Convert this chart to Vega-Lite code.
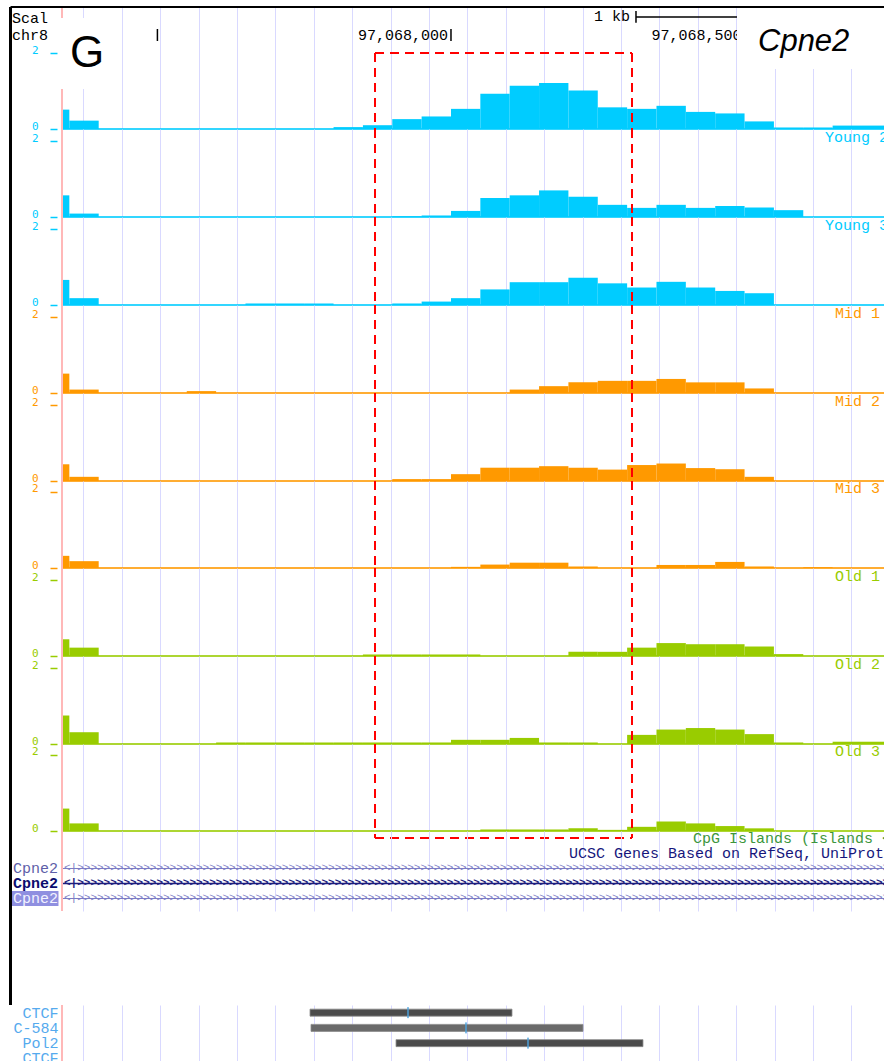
{
"$schema": "https://vega.github.io/schema/vega-lite/v6.json",
"background": "white",
"padding": {"left": 9, "top": 5, "right": 0, "bottom": 0},
"autosize": {"type": "pad"},
"spacing": 0,
"bounds": "flush",
"datasets": {
"bins": [
{"start":97067300,"end":97067350,"Y1":0.51,"Y2":0.57,"Y3":0.66,"M1":0.51,"M2":0.44,"M3":0.32,"O1":0.44,"O2":0.75,"O3":0.59},
{"start":97067350,"end":97067400,"Y1":0.22,"Y2":0.09,"Y3":0.18,"M1":0.09,"M2":0.11,"M3":0.18,"O1":0.22,"O2":0.31,"O3":0.20},
{"start":97067400,"end":97067450,"Y1":0,"Y2":0,"Y3":0,"M1":0,"M2":0,"M3":0,"O1":0,"O2":0,"O3":0},
{"start":97067450,"end":97067500,"Y1":0,"Y2":0,"Y3":0,"M1":0,"M2":0,"M3":0,"O1":0,"O2":0,"O3":0},
{"start":97067500,"end":97067550,"Y1":0,"Y2":0,"Y3":0,"M1":0,"M2":0,"M3":0,"O1":0,"O2":0,"O3":0},
{"start":97067550,"end":97067600,"Y1":0,"Y2":0,"Y3":0,"M1":0.05,"M2":0,"M3":0,"O1":0,"O2":0,"O3":0},
{"start":97067600,"end":97067650,"Y1":0,"Y2":0,"Y3":0,"M1":0,"M2":0,"M3":0,"O1":0,"O2":0.04,"O3":0},
{"start":97067650,"end":97067700,"Y1":0,"Y2":0,"Y3":0.04,"M1":0,"M2":0,"M3":0,"O1":0,"O2":0.04,"O3":0},
{"start":97067700,"end":97067750,"Y1":0,"Y2":0,"Y3":0.04,"M1":0,"M2":0,"M3":0,"O1":0,"O2":0.04,"O3":0},
{"start":97067750,"end":97067800,"Y1":0,"Y2":0,"Y3":0.04,"M1":0,"M2":0,"M3":0,"O1":0,"O2":0.04,"O3":0},
{"start":97067800,"end":97067850,"Y1":0.05,"Y2":0,"Y3":0,"M1":0,"M2":0,"M3":0,"O1":0,"O2":0.04,"O3":0},
{"start":97067850,"end":97067900,"Y1":0.10,"Y2":0,"Y3":0,"M1":0,"M2":0,"M3":0,"O1":0.04,"O2":0.04,"O3":0},
{"start":97067900,"end":97067950,"Y1":0.26,"Y2":0.02,"Y3":0.04,"M1":0,"M2":0.05,"M3":0,"O1":0.04,"O2":0.04,"O3":0},
{"start":97067950,"end":97068000,"Y1":0.33,"Y2":0.04,"Y3":0.09,"M1":0,"M2":0.05,"M3":0,"O1":0.04,"O2":0.04,"O3":0},
{"start":97068000,"end":97068050,"Y1":0.53,"Y2":0.16,"Y3":0.18,"M1":0,"M2":0.18,"M3":0.03,"O1":0.04,"O2":0.11,"O3":0},
{"start":97068050,"end":97068100,"Y1":0.93,"Y2":0.50,"Y3":0.41,"M1":0,"M2":0.35,"M3":0.09,"O1":0,"O2":0.11,"O3":0.04},
{"start":97068100,"end":97068150,"Y1":1.14,"Y2":0.57,"Y3":0.60,"M1":0.09,"M2":0.35,"M3":0.14,"O1":0,"O2":0.16,"O3":0.04},
{"start":97068150,"end":97068200,"Y1":1.21,"Y2":0.70,"Y3":0.60,"M1":0.18,"M2":0.39,"M3":0.14,"O1":0,"O2":0.04,"O3":0.04},
{"start":97068200,"end":97068250,"Y1":1.01,"Y2":0.53,"Y3":0.72,"M1":0.28,"M2":0.35,"M3":0.04,"O1":0.11,"O2":0.04,"O3":0.07},
{"start":97068250,"end":97068300,"Y1":0.57,"Y2":0.32,"Y3":0.57,"M1":0.32,"M2":0.30,"M3":0,"O1":0.11,"O2":0,"O3":0.03},
{"start":97068300,"end":97068350,"Y1":0.53,"Y2":0.24,"Y3":0.46,"M1":0.32,"M2":0.42,"M3":0,"O1":0.22,"O2":0.24,"O3":0.11},
{"start":97068350,"end":97068400,"Y1":0.61,"Y2":0.32,"Y3":0.61,"M1":0.37,"M2":0.46,"M3":0.08,"O1":0.34,"O2":0.38,"O3":0.25},
{"start":97068400,"end":97068450,"Y1":0.45,"Y2":0.24,"Y3":0.46,"M1":0.28,"M2":0.34,"M3":0.08,"O1":0.31,"O2":0.42,"O3":0.20},
{"start":97068450,"end":97068500,"Y1":0.41,"Y2":0.29,"Y3":0.37,"M1":0.28,"M2":0.31,"M3":0.16,"O1":0.31,"O2":0.38,"O3":0.13},
{"start":97068500,"end":97068550,"Y1":0.20,"Y2":0.25,"Y3":0.31,"M1":0.12,"M2":0.11,"M3":0.04,"O1":0.25,"O2":0.26,"O3":0.07},
{"start":97068550,"end":97068600,"Y1":0.04,"Y2":0.18,"Y3":0,"M1":0,"M2":0,"M3":0,"O1":0.05,"O2":0.04,"O3":0},
{"start":97068600,"end":97068650,"Y1":0.04,"Y2":0,"Y3":0,"M1":0,"M2":0,"M3":0.02,"O1":0,"O2":0,"O3":0},
{"start":97068650,"end":97068700,"Y1":0.09,"Y2":0,"Y3":0,"M1":0,"M2":0,"M3":0,"O1":0,"O2":0.06,"O3":0},
{"start":97068700,"end":97068750,"Y1":0.09,"Y2":0,"Y3":0,"M1":0,"M2":0,"M3":0,"O1":0,"O2":0.06,"O3":0}
],
"ruler": [
{"pos":97067500,"label":""},
{"pos":97068000,"label":"97,068,000"},
{"pos":97068500,"label":"97,068,500"}
],
"genes": [
{"row":"g1","name":"Cpne2"},
{"row":"g2","name":"Cpne2"},
{"row":"g3","name":"Cpne2"}
],
"peaks": [
{"row":"CTCF","start":97067759.9,"end":97068103.9,"summit":97067926.8},
{"row":"C-584","start":97067761.6,"end":97068224.8,"summit":97068025.6},
{"row":"Pol2","start":97067906.4,"end":97068327.0,"summit":97068131.2}
]
},
"vconcat": [
{
"width": 822, "height": 122,
"layer": [
{"data":{"name":"bins"},"mark":{"type":"rect","clip":true,"color":"#00ccff"},
 "encoding":{
  "x":{"field":"start","type":"quantitative","scale":{"domain":[97067337.5,97068737.5],"nice":false,"zero":false},"axis":{"title":null,"values":[97067374.1,97067406.8,97067439.5,97067472.2,97067504.9,97067537.6,97067570.3,97067603.0,97067635.7,97067668.4,97067701.1,97067733.8,97067766.5,97067799.2,97067831.9,97067864.6,97067897.3,97067930.0,97067962.7,97067995.4,97068028.1,97068060.8,97068093.5,97068126.2,97068158.9,97068191.6,97068224.3,97068257.0,97068289.7,97068322.4,97068355.1,97068387.8,97068420.5,97068453.2,97068485.9,97068518.6,97068551.3,97068584.0,97068616.7,97068649.4,97068682.1,97068714.8]}},
  "x2":{"field":"end"},
  "y":{"field":"Y1","type":"quantitative","scale":{"domain":[0,3.21053],"nice":false,"zero":true},"axis":{"title":null,"values":[0,2],"labelColor":"#00ccff","tickColor":"#00ccff"}},
  "y2":{"datum":0}}},
{"data":{"values":[{}]},"mark":{"type":"rule","color":"#00ccff","strokeWidth":2,"opacity":0.8},"encoding":{"y":{"datum":0}}},
{"data":{"values":[{}]},"mark":{"type":"rule","color":"#ffb8b8","strokeWidth":2},"encoding":{"x":{"datum":97067337.5}}},
{"data":{"name":"ruler"},"mark":{"type":"rule","color":"#000000","strokeWidth":1.5},"encoding":{"x":{"field":"pos","type":"quantitative"},"y":{"datum":2.632},"y2":{"datum":2.316}}},
{"data":{"name":"ruler"},"mark":{"type":"text","align":"right","baseline":"middle","dx":-3,"color":"#000000"},"encoding":{"x":{"field":"pos","type":"quantitative"},"y":{"datum":2.474},"text":{"field":"label"}}},
{"data":{"values":[{}]},"mark":{"type":"rule","color":"#000000","strokeWidth":1.5},"encoding":{"x":{"datum":97068315.1},"x2":{"datum":97068737.5},"y":{"datum":2.947}}},
{"data":{"values":[{}]},"mark":{"type":"rule","color":"#000000","strokeWidth":1.5},"encoding":{"x":{"datum":97068315.1},"y":{"datum":3.105},"y2":{"datum":2.797}}},
{"data":{"values":[{}]},"mark":{"type":"text","align":"right","baseline":"middle","dx":-2,"color":"#000000"},"encoding":{"x":{"datum":97068308.3},"y":{"datum":2.974},"text":{"value":"1 kb"}}},
{"data":{"values":[{}]},"mark":{"type":"text","align":"left","baseline":"middle","color":"#000000"},"encoding":{"x":{"datum":97067252.3},"y":{"datum":2.908},"text":{"value":"Scal"}}},
{"data":{"values":[{}]},"mark":{"type":"text","align":"left","baseline":"middle","color":"#000000"},"encoding":{"x":{"datum":97067252.3},"y":{"datum":2.474},"text":{"value":"chr8"}}},
{"data":{"values":[{}]},"mark":{"type":"rect","color":"#ffffff"},"encoding":{"x":{"datum":97067330.7},"x2":{"datum":97067424.4},"y":{"datum":2.92},"y2":{"datum":1.05}}},
{"data":{"values":[{}]},"mark":{"type":"rect","color":"#ffffff"},"encoding":{"x":{"datum":97068487.1},"x2":{"datum":97068737.5},"y":{"datum":3.21053},"y2":{"datum":1.58}}},
{"data":{"values":[{}]},"mark":{"type":"text","align":"left","baseline":"alphabetic","font":"Liberation Sans","fontSize":44,"color":"#000000"},"encoding":{"x":{"datum":97067351.1},"y":{"datum":1.632},"text":{"value":"G"}}},
{"data":{"values":[{}]},"mark":{"type":"text","align":"left","baseline":"alphabetic","font":"Liberation Sans","fontStyle":"italic","fontSize":31,"color":"#000000"},"encoding":{"x":{"datum":97068522.9},"y":{"datum":2.053},"text":{"value":"Cpne2"}}},
{"data":{"values":[{}]},"mark":{"type":"rule","color":"#ff0000","strokeWidth":2,"strokeDash":[9,6]},"encoding":{"x":{"datum":97067870.6},"y":{"datum":2},"y2":{"datum":0}}},
{"data":{"values":[{}]},"mark":{"type":"rule","color":"#ff0000","strokeWidth":2,"strokeDash":[9,6]},"encoding":{"x":{"datum":97068308.3},"y":{"datum":2},"y2":{"datum":0}}},
{"data":{"values":[{}]},"mark":{"type":"rule","color":"#ff0000","strokeWidth":2,"strokeDash":[9,6]},"encoding":{"x":{"datum":97067870.6},"x2":{"datum":97068308.3},"y":{"datum":2}}},
{"data":{"values":[{}]},"mark":{"type":"rule","color":"#000000","strokeWidth":3},"encoding":{"x":{"datum":97067249.8}}},
{"data":{"values":[{}]},"mark":{"type":"rule","color":"#000000","strokeWidth":2},"encoding":{"x":{"datum":97067249.8},"x2":{"datum":97068737.5},"y":{"datum":3.21053}}}
]
},
{
"width": 822, "height": 88,
"layer": [
{"data":{"name":"bins"},"mark":{"type":"rect","clip":true,"color":"#00ccff"},
 "encoding":{
  "x":{"field":"start","type":"quantitative","scale":{"domain":[97067337.5,97068737.5],"nice":false,"zero":false},"axis":{"title":null,"values":[97067374.1,97067406.8,97067439.5,97067472.2,97067504.9,97067537.6,97067570.3,97067603.0,97067635.7,97067668.4,97067701.1,97067733.8,97067766.5,97067799.2,97067831.9,97067864.6,97067897.3,97067930.0,97067962.7,97067995.4,97068028.1,97068060.8,97068093.5,97068126.2,97068158.9,97068191.6,97068224.3,97068257.0,97068289.7,97068322.4,97068355.1,97068387.8,97068420.5,97068453.2,97068485.9,97068518.6,97068551.3,97068584.0,97068616.7,97068649.4,97068682.1,97068714.8]}},
  "x2":{"field":"end"},
  "y":{"field":"Y2","type":"quantitative","scale":{"domain":[0,2.31579],"nice":false,"zero":true},"axis":{"title":null,"values":[0,2],"labelColor":"#00ccff","tickColor":"#00ccff"}},
  "y2":{"datum":0}}},
{"data":{"values":[{}]},"mark":{"type":"rule","color":"#00ccff","strokeWidth":2,"opacity":0.8},"encoding":{"y":{"datum":0}}},
{"data":{"values":[{}]},"mark":{"type":"rule","color":"#ffb8b8","strokeWidth":2},"encoding":{"x":{"datum":97067337.5}}},
{"data":{"values":[{}]},"mark":{"type":"rule","color":"#ff0000","strokeWidth":2,"strokeDash":[9,6]},"encoding":{"x":{"datum":97067870.6}}},
{"data":{"values":[{}]},"mark":{"type":"rule","color":"#ff0000","strokeWidth":2,"strokeDash":[9,6]},"encoding":{"x":{"datum":97068308.3}}},
{"data":{"values":[{}]},"mark":{"type":"rule","color":"#000000","strokeWidth":3},"encoding":{"x":{"datum":97067249.8}}},
{"data":{"values":[{}]},"mark":{"type":"text","align":"left","baseline":"middle","color":"#00ccff"},"encoding":{"x":{"datum":97068637.0},"y":{"datum":2.1},"text":{"value":"Young 2"}}}
]
},
{
"width": 822, "height": 88,
"layer": [
{"data":{"name":"bins"},"mark":{"type":"rect","clip":true,"color":"#00ccff"},
 "encoding":{
  "x":{"field":"start","type":"quantitative","scale":{"domain":[97067337.5,97068737.5],"nice":false,"zero":false},"axis":{"title":null,"values":[97067374.1,97067406.8,97067439.5,97067472.2,97067504.9,97067537.6,97067570.3,97067603.0,97067635.7,97067668.4,97067701.1,97067733.8,97067766.5,97067799.2,97067831.9,97067864.6,97067897.3,97067930.0,97067962.7,97067995.4,97068028.1,97068060.8,97068093.5,97068126.2,97068158.9,97068191.6,97068224.3,97068257.0,97068289.7,97068322.4,97068355.1,97068387.8,97068420.5,97068453.2,97068485.9,97068518.6,97068551.3,97068584.0,97068616.7,97068649.4,97068682.1,97068714.8]}},
  "x2":{"field":"end"},
  "y":{"field":"Y3","type":"quantitative","scale":{"domain":[0,2.31579],"nice":false,"zero":true},"axis":{"title":null,"values":[0,2],"labelColor":"#00ccff","tickColor":"#00ccff"}},
  "y2":{"datum":0}}},
{"data":{"values":[{}]},"mark":{"type":"rule","color":"#00ccff","strokeWidth":2,"opacity":0.8},"encoding":{"y":{"datum":0}}},
{"data":{"values":[{}]},"mark":{"type":"rule","color":"#ffb8b8","strokeWidth":2},"encoding":{"x":{"datum":97067337.5}}},
{"data":{"values":[{}]},"mark":{"type":"rule","color":"#ff0000","strokeWidth":2,"strokeDash":[9,6]},"encoding":{"x":{"datum":97067870.6}}},
{"data":{"values":[{}]},"mark":{"type":"rule","color":"#ff0000","strokeWidth":2,"strokeDash":[9,6]},"encoding":{"x":{"datum":97068308.3}}},
{"data":{"values":[{}]},"mark":{"type":"rule","color":"#000000","strokeWidth":3},"encoding":{"x":{"datum":97067249.8}}},
{"data":{"values":[{}]},"mark":{"type":"text","align":"left","baseline":"middle","color":"#00ccff"},"encoding":{"x":{"datum":97068637.0},"y":{"datum":2.1},"text":{"value":"Young 3"}}}
]
},
{
"width": 822, "height": 88,
"layer": [
{"data":{"name":"bins"},"mark":{"type":"rect","clip":true,"color":"#ff9900"},
 "encoding":{
  "x":{"field":"start","type":"quantitative","scale":{"domain":[97067337.5,97068737.5],"nice":false,"zero":false},"axis":{"title":null,"values":[97067374.1,97067406.8,97067439.5,97067472.2,97067504.9,97067537.6,97067570.3,97067603.0,97067635.7,97067668.4,97067701.1,97067733.8,97067766.5,97067799.2,97067831.9,97067864.6,97067897.3,97067930.0,97067962.7,97067995.4,97068028.1,97068060.8,97068093.5,97068126.2,97068158.9,97068191.6,97068224.3,97068257.0,97068289.7,97068322.4,97068355.1,97068387.8,97068420.5,97068453.2,97068485.9,97068518.6,97068551.3,97068584.0,97068616.7,97068649.4,97068682.1,97068714.8]}},
  "x2":{"field":"end"},
  "y":{"field":"M1","type":"quantitative","scale":{"domain":[0,2.31579],"nice":false,"zero":true},"axis":{"title":null,"values":[0,2],"labelColor":"#ff9900","tickColor":"#ff9900"}},
  "y2":{"datum":0}}},
{"data":{"values":[{}]},"mark":{"type":"rule","color":"#ff9900","strokeWidth":2,"opacity":0.8},"encoding":{"y":{"datum":0}}},
{"data":{"values":[{}]},"mark":{"type":"rule","color":"#ffb8b8","strokeWidth":2},"encoding":{"x":{"datum":97067337.5}}},
{"data":{"values":[{}]},"mark":{"type":"rule","color":"#ff0000","strokeWidth":2,"strokeDash":[9,6]},"encoding":{"x":{"datum":97067870.6}}},
{"data":{"values":[{}]},"mark":{"type":"rule","color":"#ff0000","strokeWidth":2,"strokeDash":[9,6]},"encoding":{"x":{"datum":97068308.3}}},
{"data":{"values":[{}]},"mark":{"type":"rule","color":"#000000","strokeWidth":3},"encoding":{"x":{"datum":97067249.8}}},
{"data":{"values":[{}]},"mark":{"type":"text","align":"left","baseline":"middle","color":"#ff9900"},"encoding":{"x":{"datum":97068654.0},"y":{"datum":2.1},"text":{"value":"Mid 1"}}}
]
},
{
"width": 822, "height": 88,
"layer": [
{"data":{"name":"bins"},"mark":{"type":"rect","clip":true,"color":"#ff9900"},
 "encoding":{
  "x":{"field":"start","type":"quantitative","scale":{"domain":[97067337.5,97068737.5],"nice":false,"zero":false},"axis":{"title":null,"values":[97067374.1,97067406.8,97067439.5,97067472.2,97067504.9,97067537.6,97067570.3,97067603.0,97067635.7,97067668.4,97067701.1,97067733.8,97067766.5,97067799.2,97067831.9,97067864.6,97067897.3,97067930.0,97067962.7,97067995.4,97068028.1,97068060.8,97068093.5,97068126.2,97068158.9,97068191.6,97068224.3,97068257.0,97068289.7,97068322.4,97068355.1,97068387.8,97068420.5,97068453.2,97068485.9,97068518.6,97068551.3,97068584.0,97068616.7,97068649.4,97068682.1,97068714.8]}},
  "x2":{"field":"end"},
  "y":{"field":"M2","type":"quantitative","scale":{"domain":[0,2.31579],"nice":false,"zero":true},"axis":{"title":null,"values":[0,2],"labelColor":"#ff9900","tickColor":"#ff9900"}},
  "y2":{"datum":0}}},
{"data":{"values":[{}]},"mark":{"type":"rule","color":"#ff9900","strokeWidth":2,"opacity":0.8},"encoding":{"y":{"datum":0}}},
{"data":{"values":[{}]},"mark":{"type":"rule","color":"#ffb8b8","strokeWidth":2},"encoding":{"x":{"datum":97067337.5}}},
{"data":{"values":[{}]},"mark":{"type":"rule","color":"#ff0000","strokeWidth":2,"strokeDash":[9,6]},"encoding":{"x":{"datum":97067870.6}}},
{"data":{"values":[{}]},"mark":{"type":"rule","color":"#ff0000","strokeWidth":2,"strokeDash":[9,6]},"encoding":{"x":{"datum":97068308.3}}},
{"data":{"values":[{}]},"mark":{"type":"rule","color":"#000000","strokeWidth":3},"encoding":{"x":{"datum":97067249.8}}},
{"data":{"values":[{}]},"mark":{"type":"text","align":"left","baseline":"middle","color":"#ff9900"},"encoding":{"x":{"datum":97068654.0},"y":{"datum":2.1},"text":{"value":"Mid 2"}}}
]
},
{
"width": 822, "height": 87,
"layer": [
{"data":{"name":"bins"},"mark":{"type":"rect","clip":true,"color":"#ff9900"},
 "encoding":{
  "x":{"field":"start","type":"quantitative","scale":{"domain":[97067337.5,97068737.5],"nice":false,"zero":false},"axis":{"title":null,"values":[97067374.1,97067406.8,97067439.5,97067472.2,97067504.9,97067537.6,97067570.3,97067603.0,97067635.7,97067668.4,97067701.1,97067733.8,97067766.5,97067799.2,97067831.9,97067864.6,97067897.3,97067930.0,97067962.7,97067995.4,97068028.1,97068060.8,97068093.5,97068126.2,97068158.9,97068191.6,97068224.3,97068257.0,97068289.7,97068322.4,97068355.1,97068387.8,97068420.5,97068453.2,97068485.9,97068518.6,97068551.3,97068584.0,97068616.7,97068649.4,97068682.1,97068714.8]}},
  "x2":{"field":"end"},
  "y":{"field":"M3","type":"quantitative","scale":{"domain":[0,2.28947],"nice":false,"zero":true},"axis":{"title":null,"values":[0,2],"labelColor":"#ff9900","tickColor":"#ff9900"}},
  "y2":{"datum":0}}},
{"data":{"values":[{}]},"mark":{"type":"rule","color":"#ff9900","strokeWidth":2,"opacity":0.8},"encoding":{"y":{"datum":0}}},
{"data":{"values":[{}]},"mark":{"type":"rule","color":"#ffb8b8","strokeWidth":2},"encoding":{"x":{"datum":97067337.5}}},
{"data":{"values":[{}]},"mark":{"type":"rule","color":"#ff0000","strokeWidth":2,"strokeDash":[9,6]},"encoding":{"x":{"datum":97067870.6}}},
{"data":{"values":[{}]},"mark":{"type":"rule","color":"#ff0000","strokeWidth":2,"strokeDash":[9,6]},"encoding":{"x":{"datum":97068308.3}}},
{"data":{"values":[{}]},"mark":{"type":"rule","color":"#000000","strokeWidth":3},"encoding":{"x":{"datum":97067249.8}}},
{"data":{"values":[{}]},"mark":{"type":"text","align":"left","baseline":"middle","color":"#ff9900"},"encoding":{"x":{"datum":97068654.0},"y":{"datum":2.1},"text":{"value":"Mid 3"}}}
]
},
{
"width": 822, "height": 88,
"layer": [
{"data":{"name":"bins"},"mark":{"type":"rect","clip":true,"color":"#99cc00"},
 "encoding":{
  "x":{"field":"start","type":"quantitative","scale":{"domain":[97067337.5,97068737.5],"nice":false,"zero":false},"axis":{"title":null,"values":[97067374.1,97067406.8,97067439.5,97067472.2,97067504.9,97067537.6,97067570.3,97067603.0,97067635.7,97067668.4,97067701.1,97067733.8,97067766.5,97067799.2,97067831.9,97067864.6,97067897.3,97067930.0,97067962.7,97067995.4,97068028.1,97068060.8,97068093.5,97068126.2,97068158.9,97068191.6,97068224.3,97068257.0,97068289.7,97068322.4,97068355.1,97068387.8,97068420.5,97068453.2,97068485.9,97068518.6,97068551.3,97068584.0,97068616.7,97068649.4,97068682.1,97068714.8]}},
  "x2":{"field":"end"},
  "y":{"field":"O1","type":"quantitative","scale":{"domain":[0,2.31579],"nice":false,"zero":true},"axis":{"title":null,"values":[0,2],"labelColor":"#99cc00","tickColor":"#99cc00"}},
  "y2":{"datum":0}}},
{"data":{"values":[{}]},"mark":{"type":"rule","color":"#99cc00","strokeWidth":2,"opacity":0.8},"encoding":{"y":{"datum":0}}},
{"data":{"values":[{}]},"mark":{"type":"rule","color":"#ffb8b8","strokeWidth":2},"encoding":{"x":{"datum":97067337.5}}},
{"data":{"values":[{}]},"mark":{"type":"rule","color":"#ff0000","strokeWidth":2,"strokeDash":[9,6]},"encoding":{"x":{"datum":97067870.6}}},
{"data":{"values":[{}]},"mark":{"type":"rule","color":"#ff0000","strokeWidth":2,"strokeDash":[9,6]},"encoding":{"x":{"datum":97068308.3}}},
{"data":{"values":[{}]},"mark":{"type":"rule","color":"#000000","strokeWidth":3},"encoding":{"x":{"datum":97067249.8}}},
{"data":{"values":[{}]},"mark":{"type":"text","align":"left","baseline":"middle","color":"#99cc00"},"encoding":{"x":{"datum":97068654.0},"y":{"datum":2.1},"text":{"value":"Old 1"}}}
]
},
{
"width": 822, "height": 88,
"layer": [
{"data":{"name":"bins"},"mark":{"type":"rect","clip":true,"color":"#99cc00"},
 "encoding":{
  "x":{"field":"start","type":"quantitative","scale":{"domain":[97067337.5,97068737.5],"nice":false,"zero":false},"axis":{"title":null,"values":[97067374.1,97067406.8,97067439.5,97067472.2,97067504.9,97067537.6,97067570.3,97067603.0,97067635.7,97067668.4,97067701.1,97067733.8,97067766.5,97067799.2,97067831.9,97067864.6,97067897.3,97067930.0,97067962.7,97067995.4,97068028.1,97068060.8,97068093.5,97068126.2,97068158.9,97068191.6,97068224.3,97068257.0,97068289.7,97068322.4,97068355.1,97068387.8,97068420.5,97068453.2,97068485.9,97068518.6,97068551.3,97068584.0,97068616.7,97068649.4,97068682.1,97068714.8]}},
  "x2":{"field":"end"},
  "y":{"field":"O2","type":"quantitative","scale":{"domain":[0,2.31579],"nice":false,"zero":true},"axis":{"title":null,"values":[0,2],"labelColor":"#99cc00","tickColor":"#99cc00"}},
  "y2":{"datum":0}}},
{"data":{"values":[{}]},"mark":{"type":"rule","color":"#99cc00","strokeWidth":2,"opacity":0.8},"encoding":{"y":{"datum":0}}},
{"data":{"values":[{}]},"mark":{"type":"rule","color":"#ffb8b8","strokeWidth":2},"encoding":{"x":{"datum":97067337.5}}},
{"data":{"values":[{}]},"mark":{"type":"rule","color":"#ff0000","strokeWidth":2,"strokeDash":[9,6]},"encoding":{"x":{"datum":97067870.6}}},
{"data":{"values":[{}]},"mark":{"type":"rule","color":"#ff0000","strokeWidth":2,"strokeDash":[9,6]},"encoding":{"x":{"datum":97068308.3}}},
{"data":{"values":[{}]},"mark":{"type":"rule","color":"#000000","strokeWidth":3},"encoding":{"x":{"datum":97067249.8}}},
{"data":{"values":[{}]},"mark":{"type":"text","align":"left","baseline":"middle","color":"#99cc00"},"encoding":{"x":{"datum":97068654.0},"y":{"datum":2.1},"text":{"value":"Old 2"}}}
]
},
{
"width": 822, "height": 87,
"layer": [
{"data":{"name":"bins"},"mark":{"type":"rect","clip":true,"color":"#99cc00"},
 "encoding":{
  "x":{"field":"start","type":"quantitative","scale":{"domain":[97067337.5,97068737.5],"nice":false,"zero":false},"axis":{"title":null,"values":[97067374.1,97067406.8,97067439.5,97067472.2,97067504.9,97067537.6,97067570.3,97067603.0,97067635.7,97067668.4,97067701.1,97067733.8,97067766.5,97067799.2,97067831.9,97067864.6,97067897.3,97067930.0,97067962.7,97067995.4,97068028.1,97068060.8,97068093.5,97068126.2,97068158.9,97068191.6,97068224.3,97068257.0,97068289.7,97068322.4,97068355.1,97068387.8,97068420.5,97068453.2,97068485.9,97068518.6,97068551.3,97068584.0,97068616.7,97068649.4,97068682.1,97068714.8]}},
  "x2":{"field":"end"},
  "y":{"field":"O3","type":"quantitative","scale":{"domain":[0,2.28947],"nice":false,"zero":true},"axis":{"title":null,"values":[0,2],"labelColor":"#99cc00","tickColor":"#99cc00"}},
  "y2":{"datum":0}}},
{"data":{"values":[{}]},"mark":{"type":"rule","color":"#99cc00","strokeWidth":2,"opacity":0.8},"encoding":{"y":{"datum":0}}},
{"data":{"values":[{}]},"mark":{"type":"rule","color":"#ffb8b8","strokeWidth":2},"encoding":{"x":{"datum":97067337.5}}},
{"data":{"values":[{}]},"mark":{"type":"rule","color":"#ff0000","strokeWidth":2,"strokeDash":[9,6]},"encoding":{"x":{"datum":97067870.6},"y":{"datum":2.28947},"y2":{"datum":-0.184}}},
{"data":{"values":[{}]},"mark":{"type":"rule","color":"#ff0000","strokeWidth":2,"strokeDash":[9,6]},"encoding":{"x":{"datum":97068308.3},"y":{"datum":2.28947},"y2":{"datum":-0.184}}},
{"data":{"values":[{}]},"mark":{"type":"rule","color":"#ff0000","strokeWidth":2,"strokeDash":[9,6]},"encoding":{"x":{"datum":97067870.6},"x2":{"datum":97068308.3},"y":{"datum":-0.184}}},
{"data":{"values":[{}]},"mark":{"type":"rule","color":"#000000","strokeWidth":3},"encoding":{"x":{"datum":97067249.8}}},
{"data":{"values":[{}]},"mark":{"type":"text","align":"left","baseline":"middle","color":"#99cc00"},"encoding":{"x":{"datum":97068654.0},"y":{"datum":2.1},"text":{"value":"Old 3"}}}
]
},
{
"width": 822, "height": 80,
"layer": [
{"data":{"values":[{}]},"mark":{"type":"text","align":"left","baseline":"middle","color":"#3c963c"},
 "encoding":{
  "x":{"datum":97068412.2,"type":"quantitative","scale":{"domain":[97067337.5,97068737.5],"nice":false,"zero":false},"axis":{"title":null,"values":[97067374.1,97067406.8,97067439.5,97067472.2,97067504.9,97067537.6,97067570.3,97067603.0,97067635.7,97067668.4,97067701.1,97067733.8,97067766.5,97067799.2,97067831.9,97067864.6,97067897.3,97067930.0,97067962.7,97067995.4,97068028.1,97068060.8,97068093.5,97068126.2,97068158.9,97068191.6,97068224.3,97068257.0,97068289.7,97068322.4,97068355.1,97068387.8,97068420.5,97068453.2,97068485.9,97068518.6,97068551.3,97068584.0,97068616.7,97068649.4,97068682.1,97068714.8]}},
  "y":{"datum":"cpg","type":"nominal","bandPosition":0.5,"scale":{"type":"band","domain":["cpg","ucsc","g1","g2","g3"],"paddingInner":0,"paddingOuter":0.1667,"align":0},"axis":null},
  "text":{"value":"CpG Islands (Islands < 300 Bases are Light Green)"}}},
{"data":{"values":[{}]},"mark":{"type":"text","align":"left","baseline":"middle","color":"#16167c"},"encoding":{"x":{"datum":97068201.0},"y":{"datum":"ucsc","type":"nominal","bandPosition":0.5},"text":{"value":"UCSC Genes Based on RefSeq, UniProt, GenBank, CCDS and Comparative Genomics"}}},
{"data":{"values":[{}]},"mark":{"type":"rule","color":"#7b7bc4","strokeWidth":1},"encoding":{"y":{"datum":"g1","type":"nominal","bandPosition":0.5}}},
{"data":{"values":[{}]},"mark":{"type":"rule","color":"#1c1c7c","strokeWidth":1.3},"encoding":{"y":{"datum":"g2","type":"nominal","bandPosition":0.5}}},
{"data":{"values":[{}]},"mark":{"type":"rule","color":"#7b7bc4","strokeWidth":1},"encoding":{"y":{"datum":"g3","type":"nominal","bandPosition":0.5}}},
{"data":{"values":[{}]},"mark":{"type":"text","align":"left","baseline":"middle","fontSize":11,"color":"#7b7bc4"},"encoding":{"x":{"datum":97067340.9},"y":{"datum":"g1","type":"nominal","bandPosition":0.5},"text":{"value":"<|>>>>>>>>>>>>>>>>>>>>>>>>>>>>>>>>>>>>>>>>>>>>>>>>>>>>>>>>>>>>>>>>>>>>>>>>>>>>>>>>>>>>>>>>>>>>>>>>>>>>>>>>>>>>>>>>>>>>>>>>>>>>>>>>>>>>>"}}},
{"data":{"values":[{}]},"mark":{"type":"text","align":"left","baseline":"middle","fontSize":11,"fontWeight":"bold","color":"#1c1c7c"},"encoding":{"x":{"datum":97067340.9},"y":{"datum":"g2","type":"nominal","bandPosition":0.5},"text":{"value":"<|>>>>>>>>>>>>>>>>>>>>>>>>>>>>>>>>>>>>>>>>>>>>>>>>>>>>>>>>>>>>>>>>>>>>>>>>>>>>>>>>>>>>>>>>>>>>>>>>>>>>>>>>>>>>>>>>>>>>>>>>>>>>>>>>>>>>>"}}},
{"data":{"values":[{}]},"mark":{"type":"text","align":"left","baseline":"middle","fontSize":11,"color":"#7b7bc4"},"encoding":{"x":{"datum":97067340.9},"y":{"datum":"g3","type":"nominal","bandPosition":0.5},"text":{"value":"<|>>>>>>>>>>>>>>>>>>>>>>>>>>>>>>>>>>>>>>>>>>>>>>>>>>>>>>>>>>>>>>>>>>>>>>>>>>>>>>>>>>>>>>>>>>>>>>>>>>>>>>>>>>>>>>>>>>>>>>>>>>>>>>>>>>>>>"}}},
{"data":{"values":[{}]},"mark":{"type":"rect","color":"#8f8fe0"},"encoding":{"x":{"datum":97067250.6},"x2":{"datum":97067331.5},"y":{"datum":"g3","type":"nominal"}}},
{"data":{"name":"genes"},"transform":[{"filter":"datum.row == 'g1'"}],"mark":{"type":"text","align":"right","baseline":"middle","color":"#5e5ea8"},"encoding":{"x":{"datum":97067330.7},"y":{"field":"row","type":"nominal","bandPosition":0.5},"text":{"field":"name"}}},
{"data":{"name":"genes"},"transform":[{"filter":"datum.row == 'g2'"}],"mark":{"type":"text","align":"right","baseline":"middle","fontWeight":"bold","color":"#0c0c6e"},"encoding":{"x":{"datum":97067330.7},"y":{"field":"row","type":"nominal","bandPosition":0.5},"text":{"field":"name"}}},
{"data":{"name":"genes"},"transform":[{"filter":"datum.row == 'g3'"}],"mark":{"type":"text","align":"right","baseline":"middle","color":"#f2f2ff"},"encoding":{"x":{"datum":97067330.7},"y":{"field":"row","type":"nominal","bandPosition":0.5},"text":{"field":"name"}}},
{"data":{"values":[{}]},"mark":{"type":"rule","color":"#ffb8b8","strokeWidth":2},"encoding":{"x":{"datum":97067337.5}}},
{"data":{"values":[{}]},"mark":{"type":"rule","color":"#000000","strokeWidth":3},"encoding":{"x":{"datum":97067249.8}}}
]
},
{
"width": 822, "height": 94,
"data": {"values": [{}]},
"mark": {"type": "rule", "color": "#000000", "strokeWidth": 3},
"encoding": {"x": {"datum": 97067249.8, "type": "quantitative", "scale": {"domain": [97067337.5, 97068737.5], "nice": false, "zero": false}, "axis": null}}
},
{
"width": 822, "height": 61,
"layer": [
{"data":{"name":"peaks"},"mark":{"type":"bar","height":7,"stroke":"#8a8a8a","strokeWidth":0.8},
 "encoding":{
  "x":{"field":"start","type":"quantitative","scale":{"domain":[97067337.5,97068737.5],"nice":false,"zero":false},"axis":{"title":null,"values":[97067374.1,97067406.8,97067439.5,97067472.2,97067504.9,97067537.6,97067570.3,97067603.0,97067635.7,97067668.4,97067701.1,97067733.8,97067766.5,97067799.2,97067831.9,97067864.6,97067897.3,97067930.0,97067962.7,97067995.4,97068028.1,97068060.8,97068093.5,97068126.2,97068158.9,97068191.6,97068224.3,97068257.0,97068289.7,97068322.4,97068355.1,97068387.8,97068420.5,97068453.2,97068485.9,97068518.6,97068551.3,97068584.0,97068616.7,97068649.4,97068682.1,97068714.8]}},
  "x2":{"field":"end"},
  "y":{"field":"row","type":"nominal","scale":{"type":"band","domain":["CTCF","C-584","Pol2","CTCF\u200b"],"paddingInner":0,"paddingOuter":0},"axis":{"title":null,"offset":0,"ticks":false,"labelPadding":4,"labelFont":"Liberation Mono","labelFontSize":15,"labelBaseline":"middle","labelColor":"#55aaee"}},
  "color":{"field":"row","type":"nominal","scale":{"domain":["CTCF","C-584","Pol2"],"range":["#4b4b4b","#6a6a6a","#4b4b4b"]},"legend":null}}},
{"data":{"name":"peaks"},"mark":{"type":"tick","color":"#4aa3e0","thickness":2,"size":11},"encoding":{"x":{"field":"summit","type":"quantitative"},"y":{"field":"row","type":"nominal"}}},
{"data":{"values":[{}]},"mark":{"type":"rule","color":"#ffb8b8","strokeWidth":2},"encoding":{"x":{"datum":97067337.5}}}
]
}
],
"config": {
"view": {"stroke": null},
"axisX": {"labels": false, "ticks": false, "domain": false, "grid": true, "gridColor": "#d9d9ff", "gridWidth": 1, "gridOpacity": 1},
"axisY": {"domain": false, "grid": false, "ticks": true, "tickSize": 7, "tickWidth": 1.5, "offset": 5, "labelPadding": 12, "labelFont": "DejaVu Sans Mono", "labelFontSize": 11, "labelBaseline": "alphabetic"},
"text": {"font": "Liberation Mono", "fontSize": 15}
}
}
